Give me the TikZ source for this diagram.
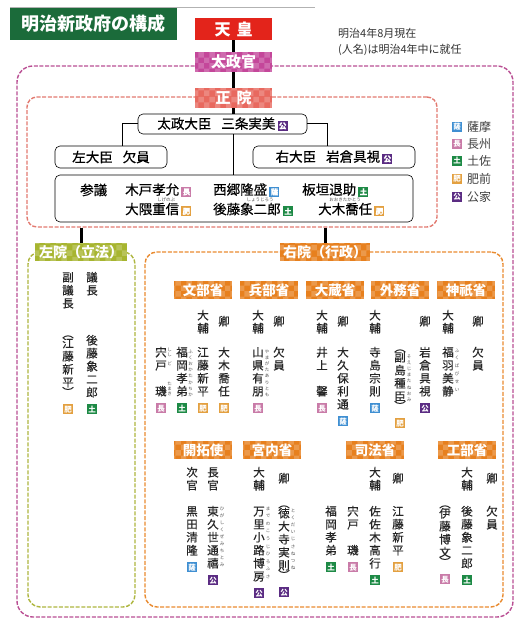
\documentclass[tikz,border=0pt]{standalone}
\usepackage{fontspec}
\setmainfont{Noto Sans CJK JP}
\newfontfamily\jpv{Noto Sans CJK JP}[FakeBold=0.5]
\usetikzlibrary{positioning,patterns}
\definecolor{ttlgreen}{HTML}{1B6B3A}
\definecolor{tennoc}{HTML}{E3241B}
\definecolor{dajoc}{HTML}{C4479A}
\definecolor{seiinf}{HTML}{E8695F}
\definecolor{sainf}{HTML}{A7B530}
\definecolor{minc}{HTML}{E7801E}
\definecolor{outerc}{HTML}{B94E93}
\definecolor{seiinc}{HTML}{E27A70}
\definecolor{sainc}{HTML}{AEB63F}
\definecolor{uinc}{HTML}{E98B30}
\definecolor{cS}{HTML}{3F8FD2}
\definecolor{cC}{HTML}{C97BA8}
\definecolor{cT}{HTML}{1E8A46}
\definecolor{cH}{HTML}{E3A040}
\definecolor{cK}{HTML}{5B2C83}
\def\bcS{薩}\def\bcC{長}\def\bcT{土}\def\bcH{肥}\def\bcK{公}
\newcommand\bdg[1]{{\setlength\fboxsep{0pt}\colorbox{c#1}{\makebox[10pt]{\rule[-2pt]{0pt}{10pt}\color{white}\fontsize{7.5}{7.5}\selectfont\bfseries\csname bc#1\endcsname}}}}
\newcommand\vtitem[1]{\hbox to 1em{\hss\vrule height .88em depth .12em width 0pt\relax #1\hss}}
\ExplSyntaxOn
\NewDocumentCommand\vt{O{13pt}m}{\vbox{\baselineskip=#1\relax\lineskiplimit=-\maxdimen\tl_map_function:nN{#2}\vtitem}}
\NewDocumentCommand\vtp{O{13pt}m}{\vbox{\baselineskip=#1\relax\lineskiplimit=-\maxdimen\vtitem{︵}\vskip-3pt\tl_map_function:nN{#2}\vtitem\vskip-3pt\vtitem{︶}}}
\ExplSyntaxOff
\newcommand\VN[5]{%
  \node[vtxt] (#1) at (#2,#3) {\vt{#4}};
  \if\relax\detokenize{#5}\relax\else\node[below=6pt of #1,inner sep=0] (#1b) {\bdg{#5}};\fi}
\newcommand\VNP[5]{%
  \node[vtxt] (#1) at (#2,#3) {\vtp{#4}};
  \if\relax\detokenize{#5}\relax\else\node[below=6pt of #1,inner sep=0] (#1b) {\bdg{#5}};\fi}
\begin{document}
\begin{tikzpicture}[x=1pt,y=-1pt,
  cont/.style={draw=#1, line width=1.4pt, dash pattern=on 4pt off 1.6pt, rounded corners=12pt, inner sep=0},
  tag/.style={inner sep=0, text=white, font=\bfseries\fontsize{14}{14}\selectfont,
     postaction={pattern=checkerboard, pattern color=white, fill opacity=.2}},
  mtag/.style={tag, fill=minc, minimum width=58pt, minimum height=18pt, font=\bfseries\fontsize{13.5}{14}\selectfont},
  box/.style={draw=black, line width=0.6pt, rounded corners=5pt, fill=white, inner sep=0, font=\jpv\fontsize{13.5}{14}\selectfont},
  ht/.style={inner sep=0, anchor=west, font=\jpv\fontsize{13.5}{14}\selectfont},
  hruby/.style={inner sep=0, text=black!70, font=\fontsize{4.5}{5}\selectfont},
  vtxt/.style={anchor=north, inner sep=0, yshift=5.75pt, text=black!85, font=\jpv\fontsize{11.5}{13}\selectfont},
  ruby/.style={anchor=north, inner sep=0, text=black!70, font=\fontsize{4.5}{5}\selectfont},
  trunk/.style={line width=3pt},
  thinl/.style={line width=1pt},
  lgt/.style={anchor=west, inner sep=0, text=black!75, font=\fontsize{12}{12}\selectfont}]
\useasboundingbox (0,0) rectangle (520,620);
% title and note
\node[fill=ttlgreen, text=white, font=\bfseries\fontsize{18}{18}\selectfont, minimum width=167pt, minimum height=32pt, inner sep=0] (title) at (93.5,24) {明治新政府の構成};
\coordinate (gl) at (315,7);
\draw[black!30, line width=1.2pt] (title.north west) -- (title.north west -| gl);
\node[anchor=west, inner sep=0, text=black!80, font=\fontsize{11}{11}\selectfont] (note1) at (338,33) {明治4年8月現在};
\node[anchor=west, inner sep=0, text=black!80, font=\fontsize{11}{11}\selectfont] (note2) at (338,50) {(人名)は明治4年中に就任};
% containers
\node[cont=outerc, minimum width=496pt, minimum height=551pt, rounded corners=16pt] (outer) at (265,341.5) {};
\node[cont=seiinc, minimum width=410pt, minimum height=130pt, rounded corners=10pt] (seiinbox) at (232,162) {};
\node[cont=sainc, minimum width=107pt, minimum height=355pt] (sainbox) at (81.5,429.5) {};
\node[cont=uinc, minimum width=358pt, minimum height=355pt] (uinbox) at (324,429.5) {};
% trunk headers
\node[fill=tennoc, text=white, font=\bfseries\fontsize{16}{16}\selectfont, minimum width=77pt, minimum height=22pt, inner sep=0] (tenno) at (233.5,29) {天\hspace{6pt}皇};
\node[tag, fill=dajoc, minimum width=77pt, minimum height=20pt, font=\bfseries\fontsize{15}{15}\selectfont] (dajo) at (233.5,62) {太政官};
\node[tag, fill=seiinf, minimum width=77pt, minimum height=20pt, font=\bfseries\fontsize{15}{15}\selectfont] (seiin) at (233.5,98) {正\hspace{6pt}院};
\node[tag, fill=sainf, minimum width=92pt, minimum height=18pt] (sain) at (81,252) {左院（立法）};
\node[tag, fill=minc, minimum width=90pt, minimum height=18pt] (uin) at (325,252) {右院（行政）};
% seiin contents
\node[box, minimum width=169pt, minimum height=20pt] (daijin) at (222.5,124) {太政大臣\hspace{10pt}三条実美\,\bdg{K}};
\node[box, minimum width=112pt, minimum height=22pt] (sadaijin) at (111,157) {左大臣\hspace{10pt}欠員};
\node[box, minimum width=162pt, minimum height=22pt] (udaijin) at (334,157) {右大臣\hspace{10pt}岩倉具視\,\bdg{K}};
\node[box, minimum width=358pt, minimum height=47pt] (sangi) at (234,198.5) {};
\node[ht] (sangit) at (80,190) {参議};
\node[ht] (kido) at (125,190) {木戸孝允\,\bdg{C}};
\node[ht] (saigo) at (213,190) {西郷隆盛\,\bdg{S}};
\node[ht] (itagaki) at (302,190) {板垣退助\,\bdg{T}};
\node[ht] (okuma) at (125,209.5) {大隈重信\,\bdg{H}};
\node[ht] (goto) at (213,209.5) {後藤象二郎\,\bdg{T}};
\node[ht] (oki) at (318,209.5) {大木喬任\,\bdg{H}};
\node[hruby] (r-okuma) at (166,200) {しげのぶ};
\node[hruby] (r-goto) at (260,200) {しょうじろう};
\node[hruby] (r-oki) at (345,200) {おおきたかとう};
% legend
\node[inner sep=0] (lgS) at (457,127) {\bdg{S}}; \node[lgt] (lgSt) at (467,127) {薩摩};
\node[inner sep=0] (lgC) at (457,144) {\bdg{C}}; \node[lgt] (lgCt) at (467,144) {長州};
\node[inner sep=0] (lgT) at (457,161) {\bdg{T}}; \node[lgt] (lgTt) at (467,161) {土佐};
\node[inner sep=0] (lgH) at (457,179) {\bdg{H}}; \node[lgt] (lgHt) at (467,179) {肥前};
\node[inner sep=0] (lgK) at (457,197) {\bdg{K}}; \node[lgt] (lgKt) at (467,197) {公家};
% connectors
\draw[trunk] (tenno) -- (dajo);
\draw[trunk] (dajo) -- (seiin);
\draw[trunk] (seiin.south) -- (seiin.south |- daijin.north);
\draw[thinl] (daijin.south -| seiin.south) -- (sangi.north -| seiin.south);
\coordinate (lc) at (122,146);
\coordinate (rc) at (327,146);
\draw[thinl] (daijin.west) -| (lc);
\draw[thinl] (daijin.east) -| (rc);
\draw[trunk] (sain.north |- seiinbox.south) -- (sain.north);
\draw[trunk] (uin.north |- seiinbox.south) -- (uin.north);
% sain
\VN{sa-gc}{92}{277}{議長}{}
\VN{sa-fg}{68}{277}{副議長}{}
\VN{sa-1}{92}{340}{後藤象二郎}{T}
\VNP{sa-2}{68}{333}{江藤新平}{H}
% ministries row 1
\node[mtag] (mon) at (203,290) {文部省};
\node[mtag] (hyo) at (269,290) {兵部省};
\node[mtag] (ozo) at (335,290) {大蔵省};
\node[mtag] (gai) at (400,290) {外務省};
\node[mtag] (jin) at (466,290) {神祇省};
\VN{mon-kyo}{224}{321}{卿}{}
\VN{mon-tf}{203}{315}{大輔}{}
\VN{mon-1}{224}{352}{大木喬任}{H}
\VN{mon-2}{203}{352}{江藤新平}{H}
\VN{mon-3}{182}{352}{福岡孝弟}{T}
\VN{mon-4}{161}{352}{宍戸　璣}{C}
\node[ruby] (r-mon-4a) at (169.5,347) {\vt[5pt]{しし}};
\node[ruby] (r-mon-4b) at (169.5,361) {\vt[5pt]{ど}};
\node[ruby] (r-mon-4c) at (169.5,381) {\vt[5pt]{たまき}};
\node[ruby] (r-mon-3) at (190.5,349) {\vt[6.2pt]{ふくおかたかちか}};
\VN{hyo-kyo}{279}{321}{卿}{}
\VN{hyo-tf}{258}{315}{大輔}{}
\VN{hyo-1}{279}{352}{欠員}{}
\VN{hyo-2}{258}{352}{山県有朋}{C}
\node[ruby] (r-hyo-2) at (267,349) {\vt[6.2pt]{やまがたありとも}};
\VN{ozo-kyo}{343}{321}{卿}{}
\VN{ozo-tf}{322}{315}{大輔}{}
\VN{ozo-1}{343}{352}{大久保利通}{S}
\VN{ozo-2}{322}{352}{井上　馨}{C}
\VN{gai-kyo}{425}{321}{卿}{}
\VN{gai-tf}{375}{315}{大輔}{}
\VN{gai-1}{425}{352}{岩倉具視}{K}
\VNP{gai-2}{400}{347}{副島種臣}{H}
\VN{gai-3}{375}{352}{寺島宗則}{S}
\node[ruby] (r-gai-2) at (409,354) {\vt[6.2pt]{そえじまたねおみ}};
\VN{jin-kyo}{478}{321}{卿}{}
\VN{jin-tf}{448}{315}{大輔}{}
\VN{jin-1}{478}{352}{欠員}{}
\VN{jin-2}{448}{352}{福羽美静}{}
\node[ruby] (r-jin-2) at (457,348) {\vt[7.8pt]{ふくばびせい}};
% ministries row 2
\node[mtag] (kai) at (203,450) {開拓使};
\node[mtag] (kun) at (272,450) {宮内省};
\node[mtag] (shi) at (375,450) {司法省};
\node[mtag] (kob) at (467,450) {工部省};
\VN{kai-c}{213}{472}{長官}{}
\VN{kai-j}{192}{472}{次官}{}
\VN{kai-1}{213}{511}{東久世通禧}{K}
\VN{kai-2}{192}{511}{黒田清隆}{S}
\node[ruby] (r-kai-1) at (222,506) {\vt[7pt]{ひがしくぜみちとみ}};
\VN{kun-kyo}{284}{478}{卿}{}
\VN{kun-tf}{259}{472}{大輔}{}
\VNP{kun-1}{284}{503}{徳大寺実則}{K}
\VN{kun-2}{259}{511}{万里小路博房}{K}
\node[ruby] (r-kun-1) at (293,508) {\vt[7.2pt]{とくだいじさねつね}};
\node[ruby] (r-kun-2) at (268,506) {\vt[7.6pt]{までのこうじひろふさ}};
\VN{shi-kyo}{398}{478}{卿}{}
\VN{shi-tf}{375}{472}{大輔}{}
\VN{shi-1}{398}{511}{江藤新平}{H}
\VN{shi-2}{375}{511}{佐佐木高行}{T}
\VN{shi-3}{353}{511}{宍戸　璣}{C}
\VN{shi-4}{331}{511}{福岡孝弟}{T}
\VN{kob-kyo}{492}{478}{卿}{}
\VN{kob-tf}{467}{472}{大輔}{}
\VN{kob-1}{492}{511}{欠員}{}
\VN{kob-2}{467}{511}{後藤象二郎}{T}
\VNP{kob-3}{445}{503}{伊藤博文}{C}
\end{tikzpicture}
\end{document}
